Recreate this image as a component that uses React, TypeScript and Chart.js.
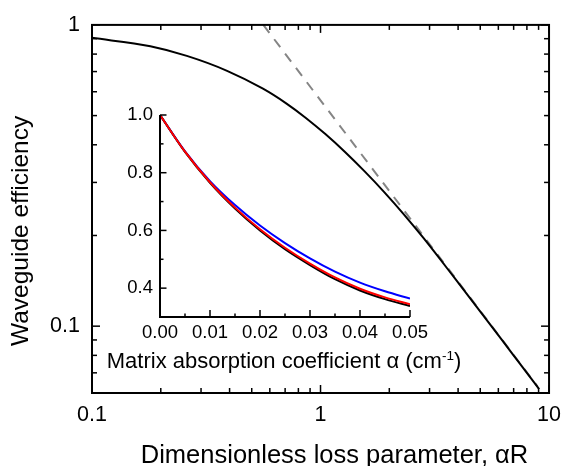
import { useEffect, useRef } from "react";
import { Chart, registerables } from "chart.js";
Chart.register(...registerables);

const FONT = "'Liberation Sans', Arial, Helvetica, sans-serif";

// Main chart: waveguide efficiency vs dimensionless loss parameter (log-log)
const lossParam = [0.1, 0.18, 0.26, 0.39, 0.56, 0.71, 0.86, 1.05, 1.28, 1.56, 1.9, 2.32, 2.82, 3.8, 5.1, 6.9, 8.8, 9.05];
const efficiency = [0.906, 0.849, 0.789, 0.704, 0.614, 0.548, 0.492, 0.434, 0.3786, 0.3264, 0.2787, 0.2347, 0.1962, 0.1468, 0.1097, 0.0811, 0.0636, 0.0618];
const asymptoteX = [0.562, 8.9];
const asymptoteY = [1.0, 0.0631];

const X_LABELS = [0.1, 1, 10];
const X_MINOR = [0.2, 0.3, 0.4, 0.5, 0.6, 0.7, 0.8, 0.9, 2, 3, 4, 5, 6, 7, 8, 9];
const Y_LABELS = [0.1, 1];
const Y_MINOR = [0.07, 0.08, 0.09, 0.2, 0.3, 0.4, 0.5, 0.6, 0.7, 0.8, 0.9];

const X_TITLE = "Dimensionless loss parameter, \u03B1R";
const Y_TITLE = "Waveguide efficiency";

// Inset: efficiency vs matrix absorption coefficient
const alphaCoef = [0, 0.005, 0.01, 0.015, 0.02, 0.025, 0.03, 0.035, 0.04, 0.045, 0.05];
const insetBlack = [1.0, 0.872, 0.765, 0.676, 0.6, 0.535, 0.48, 0.431, 0.392, 0.362, 0.338];
const insetRed = [1.0, 0.873, 0.767, 0.679, 0.604, 0.54, 0.485, 0.437, 0.398, 0.368, 0.344];
const insetBlue = [1.0, 0.874, 0.771, 0.688, 0.617, 0.556, 0.503, 0.457, 0.419, 0.389, 0.364];

const INSET_X_LABELS = [0, 0.01, 0.02, 0.03, 0.04, 0.05];
const INSET_X_MINOR = [0.005, 0.015, 0.025, 0.035, 0.045];
const INSET_Y_LABELS = [0.4, 0.6, 0.8, 1.0];
const INSET_Y_MINOR = [0.5, 0.7, 0.9];
const INSET_TITLE_MAIN = "Matrix absorption coefficient \u03B1 (cm";
const INSET_TITLE_SUP = "-1";
const INSET_TITLE_END = ")";

const pts = (xs: number[], ys: number[]) => xs.map((x, i) => ({ x, y: ys[i] }));

const mainDeco = {
  id: "mainDeco",
  afterDraw(chart: any) {
    const { ctx, chartArea, scales } = chart;
    const { left, right, top, bottom } = chartArea;
    const x = scales.x;
    const y = scales.y;
    ctx.save();
    ctx.strokeStyle = "#000";
    ctx.lineWidth = 1.5;
    const seg = (x1: number, y1: number, x2: number, y2: number) => {
      ctx.beginPath();
      ctx.moveTo(x1, y1);
      ctx.lineTo(x2, y2);
      ctx.stroke();
    };
    const xt = (v: number, len: number) => {
      const p = x.getPixelForValue(v);
      seg(p, bottom, p, bottom - len);
      seg(p, top, p, top + len);
    };
    const yt = (v: number, len: number) => {
      const p = y.getPixelForValue(v);
      seg(left, p, left + len, p);
      seg(right, p, right - len, p);
    };
    X_LABELS.forEach((v) => xt(v, 8));
    X_MINOR.forEach((v) => xt(v, 5));
    Y_LABELS.forEach((v) => yt(v, 8));
    Y_MINOR.forEach((v) => yt(v, 5));
    ctx.lineWidth = 2;
    ctx.strokeRect(left, top, right - left, bottom - top);

    ctx.fillStyle = "#000";
    ctx.textAlign = "center";
    ctx.textBaseline = "alphabetic";
    ctx.font = `25.5px ${FONT}`;
    ctx.fillText(X_TITLE, (left + right) / 2 + 14, bottom + 70);
    ctx.save();
    ctx.translate(left - 64, (top + bottom) / 2 + 22);
    ctx.rotate(-Math.PI / 2);
    ctx.font = `24.5px ${FONT}`;
    ctx.fillText(Y_TITLE, 0, 0);
    ctx.restore();
    ctx.restore();
  },
};

const insetDeco = {
  id: "insetDeco",
  afterDraw(chart: any) {
    const { ctx, chartArea, scales } = chart;
    const { left, right, top, bottom } = chartArea;
    const x = scales.x;
    const y = scales.y;
    ctx.save();
    ctx.strokeStyle = "#000";
    ctx.lineWidth = 1.5;
    const seg = (x1: number, y1: number, x2: number, y2: number) => {
      ctx.beginPath();
      ctx.moveTo(x1, y1);
      ctx.lineTo(x2, y2);
      ctx.stroke();
    };
    INSET_X_LABELS.forEach((v) => {
      const p = x.getPixelForValue(v);
      seg(p, bottom, p, bottom - 7);
    });
    INSET_X_MINOR.forEach((v) => {
      const p = x.getPixelForValue(v);
      seg(p, bottom, p, bottom - 3.5);
    });
    INSET_Y_LABELS.forEach((v) => {
      const p = y.getPixelForValue(v);
      seg(left, p, left + 6.5, p);
    });
    INSET_Y_MINOR.forEach((v) => {
      const p = y.getPixelForValue(v);
      seg(left, p, left + 3.5, p);
    });
    ctx.lineWidth = 2;
    ctx.beginPath();
    ctx.moveTo(left, top);
    ctx.lineTo(left, bottom);
    ctx.lineTo(right, bottom);
    ctx.stroke();

    ctx.fillStyle = "#000";
    ctx.textBaseline = "alphabetic";
    ctx.textAlign = "left";
    const mainFont = `22px ${FONT}`;
    const supFont = `13.5px ${FONT}`;
    ctx.font = mainFont;
    const w1 = ctx.measureText(INSET_TITLE_MAIN).width;
    const w3 = ctx.measureText(INSET_TITLE_END).width;
    ctx.font = supFont;
    const w2 = ctx.measureText(INSET_TITLE_SUP).width;
    const total = w1 + w2 + w3;
    const cx = (left + right) / 2 - 1;
    const base = bottom + 51;
    let sx = cx - total / 2;
    ctx.font = mainFont;
    ctx.fillText(INSET_TITLE_MAIN, sx, base);
    sx += w1;
    ctx.font = supFont;
    ctx.fillText(INSET_TITLE_SUP, sx, base - 8);
    sx += w2;
    ctx.font = mainFont;
    ctx.fillText(INSET_TITLE_END, sx, base);
    ctx.restore();
  },
};

export default function App() {
  const mainRef = useRef<HTMLCanvasElement>(null);
  const insetRef = useRef<HTMLCanvasElement>(null);

  useEffect(() => {
    document.body.style.margin = "0";
    const main = new Chart(mainRef.current as HTMLCanvasElement, {
      type: "scatter",
      data: {
        datasets: [
          {
            data: pts(lossParam, efficiency),
            showLine: true,
            borderColor: "#000",
            borderWidth: 2,
            pointRadius: 0,
            cubicInterpolationMode: "monotone",
            order: 0,
          } as any,
          {
            data: pts(asymptoteX, asymptoteY),
            showLine: true,
            borderColor: "#858585",
            borderWidth: 2,
            borderDash: [10, 8],
            pointRadius: 0,
            order: 1,
          } as any,
        ],
      },
      options: {
        responsive: false,
        animation: false,
        devicePixelRatio: 1,
        layout: { padding: { left: 0, top: 18, right: 12, bottom: 0 } },
        plugins: { legend: { display: false }, tooltip: { enabled: false } },
        scales: {
          x: {
            type: "logarithmic",
            min: 0.1,
            max: 10,
            grid: { display: false, drawTicks: false },
            border: { display: false },
            afterBuildTicks: (s: any) => {
              s.ticks = X_LABELS.map((v) => ({ value: v }));
            },
            afterFit: (s: any) => {
              s.height = 73;
            },
            ticks: {
              autoSkip: false,
              maxRotation: 0,
              padding: 9,
              color: "#000",
              font: { family: FONT, size: 21.5 },
              callback: (v: any) => String(v),
            },
          },
          y: {
            type: "logarithmic",
            min: 0.06,
            max: 1,
            grid: { display: false, drawTicks: false },
            border: { display: false },
            afterBuildTicks: (s: any) => {
              s.ticks = Y_LABELS.map((v) => ({ value: v }));
            },
            afterFit: (s: any) => {
              s.width = 92;
            },
            ticks: {
              autoSkip: false,
              padding: 12,
              color: "#000",
              font: { family: FONT, size: 21.5 },
              callback: (v: any) => String(v),
            },
          },
        },
      } as any,
      plugins: [mainDeco],
    });

    const inset = new Chart(insetRef.current as HTMLCanvasElement, {
      type: "scatter",
      data: {
        datasets: [
          {
            data: pts(alphaCoef, insetRed),
            showLine: true,
            borderColor: "#ff0000",
            borderWidth: 2,
            pointRadius: 0,
            cubicInterpolationMode: "monotone",
            order: 0,
          } as any,
          {
            data: pts(alphaCoef, insetBlack),
            showLine: true,
            borderColor: "#000",
            borderWidth: 2,
            pointRadius: 0,
            cubicInterpolationMode: "monotone",
            order: 1,
          } as any,
          {
            data: pts(alphaCoef, insetBlue),
            showLine: true,
            borderColor: "#0000ff",
            borderWidth: 2,
            pointRadius: 0,
            cubicInterpolationMode: "monotone",
            order: 2,
          } as any,
        ],
      },
      options: {
        responsive: false,
        animation: false,
        devicePixelRatio: 1,
        layout: { padding: { left: 0, top: 20, right: 70, bottom: 0 } },
        plugins: { legend: { display: false }, tooltip: { enabled: false } },
        scales: {
          x: {
            type: "linear",
            min: 0,
            max: 0.05,
            grid: { display: false, drawTicks: false },
            border: { display: false },
            afterBuildTicks: (s: any) => {
              s.ticks = INSET_X_LABELS.map((v) => ({ value: v }));
            },
            afterFit: (s: any) => {
              s.height = 78;
            },
            ticks: {
              autoSkip: false,
              maxRotation: 0,
              padding: 5,
              color: "#000",
              font: { family: FONT, size: 18.5 },
              callback: (v: any) => Number(v).toFixed(2),
            },
          },
          y: {
            type: "linear",
            min: 0.3,
            max: 1.0,
            grid: { display: false, drawTicks: false },
            border: { display: false },
            afterBuildTicks: (s: any) => {
              s.ticks = INSET_Y_LABELS.map((v) => ({ value: v }));
            },
            afterFit: (s: any) => {
              s.width = 100;
            },
            ticks: {
              autoSkip: false,
              padding: 7,
              color: "#000",
              font: { family: FONT, size: 18.5 },
              callback: (v: any) => Number(v).toFixed(1),
            },
          },
        },
      } as any,
      plugins: [insetDeco],
    });

    return () => {
      main.destroy();
      inset.destroy();
    };
  }, []);

  return (
    <div style={{ position: "relative", width: 570, height: 466, background: "#fff" }}>
      <canvas
        ref={mainRef}
        width={570}
        height={466}
        style={{ position: "absolute", left: 0, top: 0, width: 570, height: 466 }}
      />
      <canvas
        ref={insetRef}
        width={420}
        height={300}
        style={{ position: "absolute", left: 60, top: 95, width: 420, height: 300 }}
      />
    </div>
  );
}
